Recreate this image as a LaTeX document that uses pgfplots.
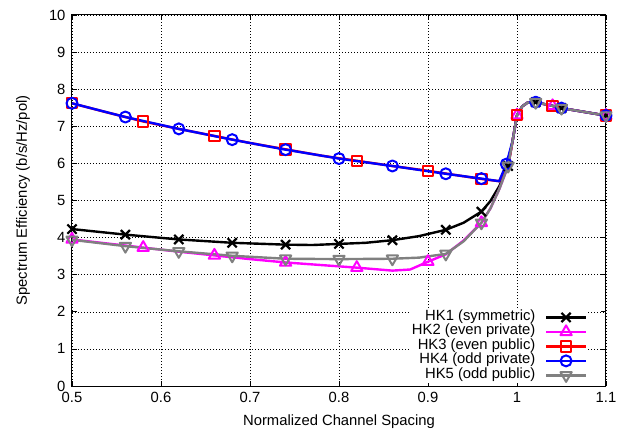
\documentclass[border=0pt]{standalone}
\usepackage{fontspec}
\setmainfont{Liberation Sans}
\usepackage{pgfplots}
\pgfplotsset{compat=1.18}
\definecolor{hkgray}{RGB}{128,128,128}
\definecolor{hkmag}{RGB}{255,0,255}
\definecolor{hkred}{RGB}{255,0,0}
\definecolor{hkblue}{RGB}{0,0,255}
\begin{document}
\begin{tikzpicture}
\begin{axis}[
    at={(0,0)}, anchor=south west,
    scale only axis,
    width=534bp, height=371bp,
    xmin=0.5, xmax=1.1, ymin=0, ymax=10,
    xtick={0.5,0.6,0.7,0.8,0.9,1,1.1},
    ytick={0,1,...,10},
    font=\fontsize{14.8bp}{17bp}\selectfont,
    /pgf/number format/assume math mode=true,
    tick label style={font=\fontsize{14.8bp}{17bp}\selectfont},
    xticklabel style={yshift=-3bp},
    yticklabel style={xshift=-3bp},
    xlabel={Normalized Channel Spacing},
    ylabel={Spectrum Efficiency (b/s/Hz/pol)},
    every axis x label/.style={at={(axis description cs:0.5,0)}, yshift=-36bp, anchor=center},
    every axis y label/.style={at={(axis description cs:0,0.5)}, xshift=-49bp, rotate=90, anchor=center},
    axis line style={line width=1bp},
    major tick length=5bp,
    tick style={black, line width=0.8bp},
    grid=major,
    major grid style={black, line width=0.6bp, dash pattern=on 1bp off 2bp},
    every axis plot/.append style={line width=2.4bp, line join=round},
    legend plot pos=right,
    legend cell align=right,
    legend style={at={(axis cs:1.0792,2.05)}, anchor=north east, draw=none, fill=white,
        inner sep=0bp, font=\fontsize{14.8bp}{14.5bp}\selectfont, column sep=9bp,
        nodes={inner sep=0.5bp, text height=9.8bp, text depth=3.7bp}},
    legend image code/.code={\draw[mark indices={2}] plot coordinates {(0bp,0bp) (20bp,0bp) (40bp,0bp)};},
]
% HK1
\addplot[black, mark=x, mark size=6.5bp, mark options={line width=2.2bp},
    mark indices={1,2,3,4,5,7,9,11,13,16,21,23,24}] coordinates {
    (0.5,4.23) (0.56,4.08) (0.62,3.95) (0.68,3.86) (0.74,3.81) (0.77,3.80)
    (0.8,3.83) (0.83,3.86) (0.86,3.93) (0.89,4.04) (0.92,4.21) (0.94,4.40)
    (0.96,4.70) (0.97,4.98) (0.98,5.38) (0.99,5.93) (0.995,6.6) (1.0,7.3)
    (1.006,7.54) (1.012,7.64) (1.021,7.65) (1.04,7.55) (1.05,7.49) (1.1,7.29)
};
\addlegendentry{HK1 (symmetric)}
% HK2
\addplot[hkmag, mark=triangle, mark size=6.5bp, mark options={line width=2bp},
    mark indices={1,3,5,7,9,12,15,20,24,26}] coordinates {
    (0.5,3.95) (0.54,3.84) (0.58,3.73) (0.62,3.62) (0.66,3.52) (0.70,3.42)
    (0.74,3.33) (0.78,3.26) (0.82,3.19) (0.86,3.11) (0.88,3.14) (0.9,3.35)
    (0.92,3.55) (0.94,3.92) (0.96,4.40) (0.97,4.78) (0.98,5.3) (0.99,5.93)
    (0.995,6.6) (1.0,7.3) (1.006,7.54) (1.012,7.64) (1.02,7.65) (1.04,7.55)
    (1.05,7.49) (1.1,7.29)
};
\addlegendentry{HK2 (even private)}
% HK3
\addplot[hkred, mark=square, mark size=5.2bp, mark options={line width=2bp},
    mark indices={1,3,5,7,9,11,13,17,21,23}] coordinates {
    (0.5,7.62) (0.54,7.37) (0.58,7.13) (0.62,6.93) (0.66,6.74) (0.70,6.55)
    (0.74,6.38) (0.78,6.21) (0.82,6.07) (0.86,5.93) (0.9,5.80) (0.93,5.69)
    (0.96,5.58) (0.98,5.52) (0.99,5.95) (0.995,6.6) (1.0,7.3) (1.006,7.54)
    (1.012,7.64) (1.02,7.65) (1.04,7.55) (1.05,7.49) (1.1,7.29)
};
\addlegendentry{HK3 (even public)}
% HK4
\addplot[hkblue, mark=o, mark size=5.5bp, mark options={line width=2bp},
    mark indices={1,2,3,4,5,6,7,8,9,11,16,18,19}] coordinates {
    (0.5,7.62) (0.56,7.25) (0.62,6.93) (0.68,6.64) (0.74,6.37) (0.8,6.13)
    (0.86,5.93) (0.92,5.72) (0.96,5.59) (0.98,5.52) (0.988,5.98) (0.995,6.6)
    (1.0,7.3) (1.006,7.54) (1.012,7.64) (1.021,7.65) (1.04,7.55) (1.05,7.49)
    (1.1,7.29)
};
\addlegendentry{HK4 (odd private)}
% HK5
\addplot[hkgray, mark=triangle, mark size=6.5bp, mark options={line width=2bp, rotate=180},
    mark indices={1,2,3,4,5,6,7,9,11,14,19,21,22}] coordinates {
    (0.5,3.94) (0.56,3.77) (0.62,3.63) (0.68,3.51) (0.74,3.43) (0.8,3.42)
    (0.86,3.43) (0.89,3.46) (0.92,3.56) (0.94,3.90) (0.96,4.40) (0.97,4.78)
    (0.98,5.3) (0.99,5.93) (0.995,6.6) (1.0,7.3) (1.006,7.54) (1.012,7.64)
    (1.021,7.65) (1.04,7.55) (1.05,7.49) (1.1,7.29)
};
\addlegendentry{HK5 (odd public)}
\end{axis}
\pgfresetboundingbox
\useasboundingbox (-72bp,-46bp) rectangle (561bp,386bp);
\end{tikzpicture}
\end{document}
